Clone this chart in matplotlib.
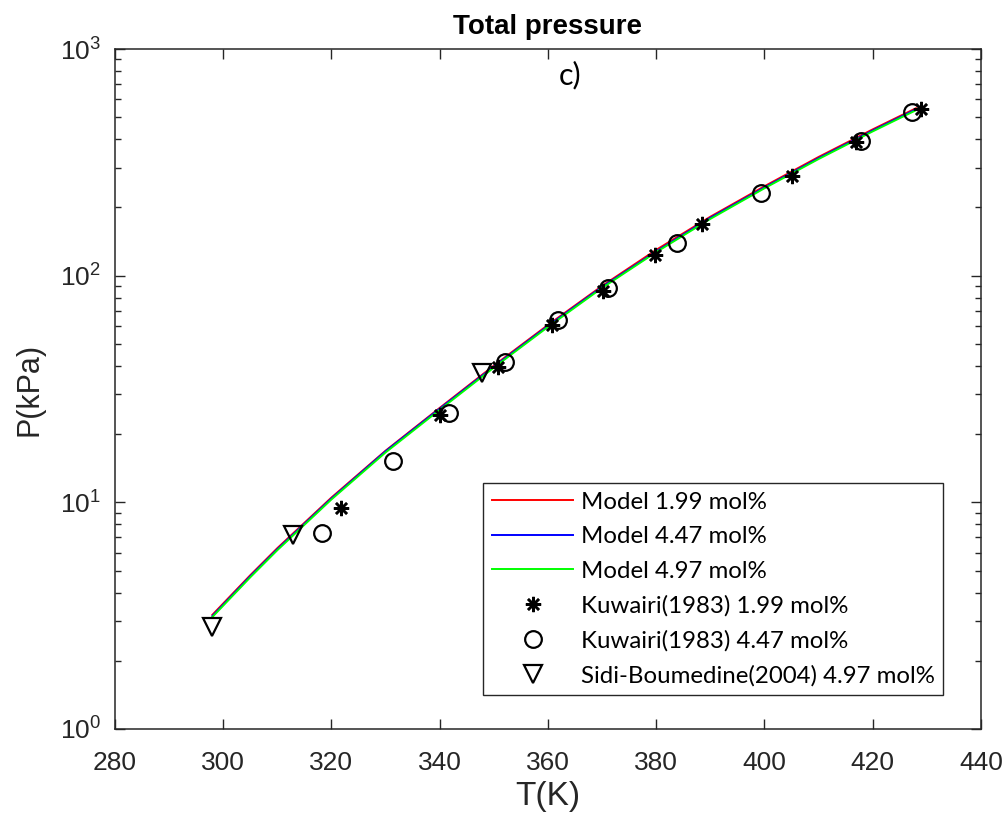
"""
Total pressure vs temperature, model curves and experimental points (panel c)
"""

import matplotlib
matplotlib.use("Agg")
import matplotlib.pyplot as plt
from matplotlib.ticker import LogLocator, NullFormatter, MultipleLocator

plt.rcParams['font.family'] = ['Liberation Sans', 'DejaVu Sans']
plt.rcParams['mathtext.default'] = 'regular'

# model curves
T_model = [298, 305, 310, 320, 330, 340, 350, 360, 370, 380, 390, 400, 410, 420, 428]
P_model_199 = [3.19, 4.77, 6.28, 10.5, 16.9, 26.1, 40.1, 60.6, 90.1, 130, 182, 248, 334, 442, 548]
P_model_447 = [3.15, 4.72, 6.21, 10.4, 16.8, 25.9, 39.7, 60.0, 89.2, 128, 180, 245, 330, 437, 542]
P_model_497 = [3.12, 4.67, 6.15, 10.3, 16.6, 25.6, 39.3, 59.4, 88.3, 127, 178, 243, 327, 433, 537]

# experimental points
T_kuw_199 = [321.7, 340.0, 350.7, 360.7, 370.1, 379.7, 388.5, 405.0, 417.0, 429.0]
P_kuw_199 = [9.4, 24.3, 39.5, 60.5, 85.5, 123, 169, 275, 388, 543]

T_kuw_447 = [318.2, 331.3, 341.8, 352.0, 361.8, 371.0, 383.9, 399.4, 417.9, 427.3]
P_kuw_447 = [7.3, 15.2, 24.8, 41.6, 63.7, 88.2, 139, 231, 392, 527]

T_sidi_497 = [297.9, 312.9, 347.9]
P_sidi_497 = [2.82, 7.2, 37.2]

axis_grey = '#262626'

fig = plt.figure(figsize=(10.06, 8.21), dpi=100)
ax = fig.add_axes([0.1143, 0.1121, 0.8608, 0.8282])

# model lines
ax.plot(T_model, P_model_199, color='red', lw=1.4, label='Model 1.99 mol%', zorder=2)
ax.plot(T_model, P_model_447, color='blue', lw=1.4, label='Model 4.47 mol%', zorder=2)
ax.plot(T_model, P_model_497, color='#00ff00', lw=1.4, label='Model 4.97 mol%', zorder=2)

# data points
ax.plot(T_kuw_199, P_kuw_199, ls='none', marker=(8, 2, 0), ms=11, mew=1.8,
        color='black', label='Kuwairi(1983) 1.99 mol%', zorder=3)
ax.plot(T_kuw_447, P_kuw_447, ls='none', marker='o', ms=12, mew=1.6,
        mfc='none', mec='black', label='Kuwairi(1983) 4.47 mol%', zorder=3)
ax.plot(T_sidi_497, P_sidi_497, ls='none', marker='v', ms=13, mew=1.6,
        mfc='none', mec='black', label='Sidi-Boumedine(2004) 4.97 mol%', zorder=3)

ax.set_yscale('log')
ax.set_xlim(280, 440)
ax.set_ylim(1, 1000)
ax.xaxis.set_major_locator(MultipleLocator(20))
ax.yaxis.set_major_locator(LogLocator(base=10, numticks=10))
ax.yaxis.set_minor_locator(LogLocator(base=10, subs=range(2, 10), numticks=10))
ax.yaxis.set_minor_formatter(NullFormatter())

# matlab-ish box with inward ticks on all sides
for sp in ax.spines.values():
    sp.set_color(axis_grey)
    sp.set_linewidth(1.1)
ax.tick_params(which='both', direction='in', top=True, right=True,
               color=axis_grey, labelcolor=axis_grey, labelsize=19)
ax.tick_params(axis='x', which='major', length=7, width=1.0, pad=16)
ax.tick_params(axis='y', which='major', length=7, width=1.0, pad=10)
ax.tick_params(which='minor', length=4, width=1.0)

ax.set_xlabel('T(K)', fontsize=24, color=axis_grey, labelpad=4)
ax.set_ylabel('P(kPa)', fontsize=22, color=axis_grey, labelpad=11)
ax.set_title('Total pressure', fontsize=20, fontweight='bold', pad=11)

ax.text(0.525, 0.982, 'c)', transform=ax.transAxes, ha='center', va='top',
        fontsize=22, family=['Lato', 'DejaVu Sans'])

leg = ax.legend(loc='lower right', bbox_to_anchor=(0.956, 0.05), borderaxespad=0,
                fancybox=False, edgecolor=axis_grey, framealpha=1,
                prop={'family': ['Lato', 'DejaVu Sans'], 'size': 17.3},
                handlelength=3.4, handletextpad=0.3, labelspacing=0.56,
                borderpad=0.35)
leg.get_frame().set_linewidth(1.0)

fig.savefig('out.png', dpi=100)
